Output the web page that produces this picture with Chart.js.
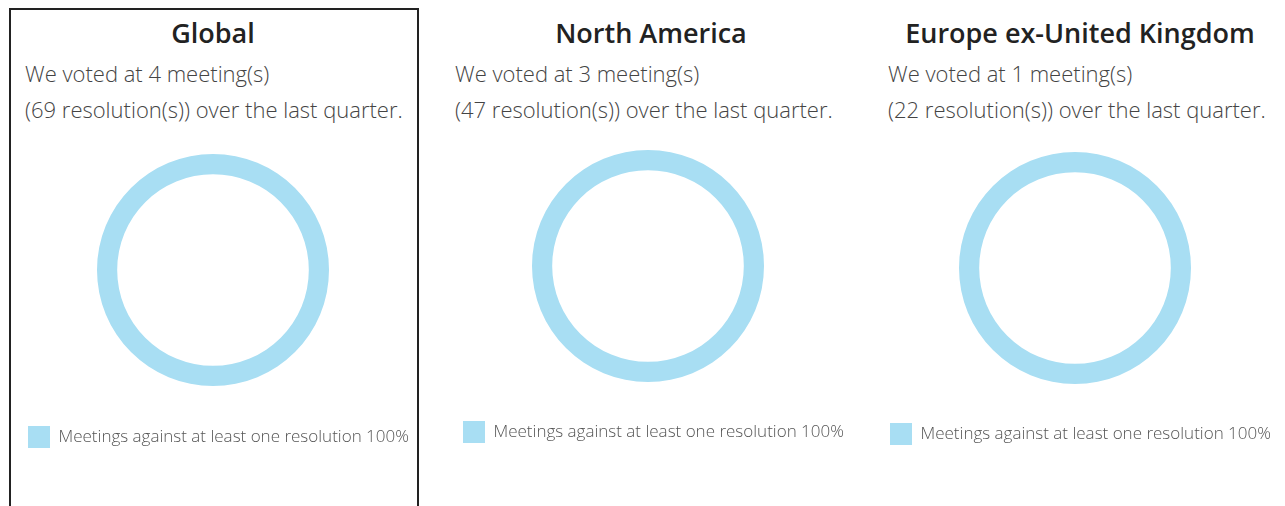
<!DOCTYPE html>
<html>
<head>
<meta charset="utf-8">
<script src="https://cdn.jsdelivr.net/npm/chart.js@4"></script>
<style>
  body { margin: 0; width: 1285px; height: 506px; background: #fff; position: relative; overflow: hidden; font-family: "Open Sans", Lato, sans-serif; }
  .cadre { position: absolute; left: 9px; top: 8px; width: 406px; height: 520px; border: 2px solid #222; }
  .titre { position: absolute; top: 14px; width: 420px; text-align: center; font-size: 27px; font-weight: 600; color: #222; }
  .ligne { position: absolute; font-size: 22px; font-weight: 300; color: #444; white-space: nowrap; }
  canvas { position: absolute; }
</style>
</head>
<body>
<div class="cadre"></div>
<div id="panels"></div>
<script>
// données
const regions = ['Global', 'North America', 'Europe ex-United Kingdom']
const meetings = [4, 3, 1]
const resolutions = [69, 47, 22]
const legendLabel = 'Meetings against at least one resolution'
const pctAgainst = [100, 100, 100]

// placement de chaque panneau (texte + canvas)
const titreCentres = [213, 651, 1080]
const texteX = [25, 455, 888]
const canvasPos = [
  {left: 18, top: 124, height: 334},
  {left: 453, top: 121, height: 332},
  {left: 880, top: 123, height: 332}
]

const panels = document.getElementById('panels')

for (let i = 0; i < regions.length; i++) {
  let titre = document.createElement('div')
  titre.className = 'titre'
  titre.style.left = (titreCentres[i] - 210) + 'px'
  titre.innerText = regions[i]
  panels.appendChild(titre)

  let l1 = document.createElement('div')
  l1.className = 'ligne'
  l1.style.left = texteX[i] + 'px'
  l1.style.top = '58px'
  l1.innerText = 'We voted at ' + meetings[i] + ' meeting(s)'
  panels.appendChild(l1)

  let l2 = document.createElement('div')
  l2.className = 'ligne'
  l2.style.left = texteX[i] + 'px'
  l2.style.top = '94px'
  l2.innerText = '(' + resolutions[i] + ' resolution(s)) over the last quarter.'
  panels.appendChild(l2)

  let cv = document.createElement('canvas')
  cv.width = 390
  cv.height = canvasPos[i].height
  cv.style.left = canvasPos[i].left + 'px'
  cv.style.top = canvasPos[i].top + 'px'
  panels.appendChild(cv)

  new Chart(cv, {
    type: 'doughnut',
    data: {
      labels: [legendLabel + ' ' + pctAgainst[i] + '%'],
      datasets: [{
        data: [pctAgainst[i]],
        backgroundColor: ['#A8DEF3'],
        borderWidth: 0,
        radius: 116,
        cutout: '82.6%'
      }]
    },
    options: {
      responsive: false,
      animation: false,
      plugins: {
        tooltip: {enabled: false},
        legend: {
          position: 'bottom',
          align: 'start',
          labels: {
            boxWidth: 22,
            boxHeight: 22,
            padding: 10,
            color: '#555',
            font: {family: 'Open Sans', size: 17, weight: '300'}
          }
        }
      }
    }
  })
}
</script>
</body>
</html>
